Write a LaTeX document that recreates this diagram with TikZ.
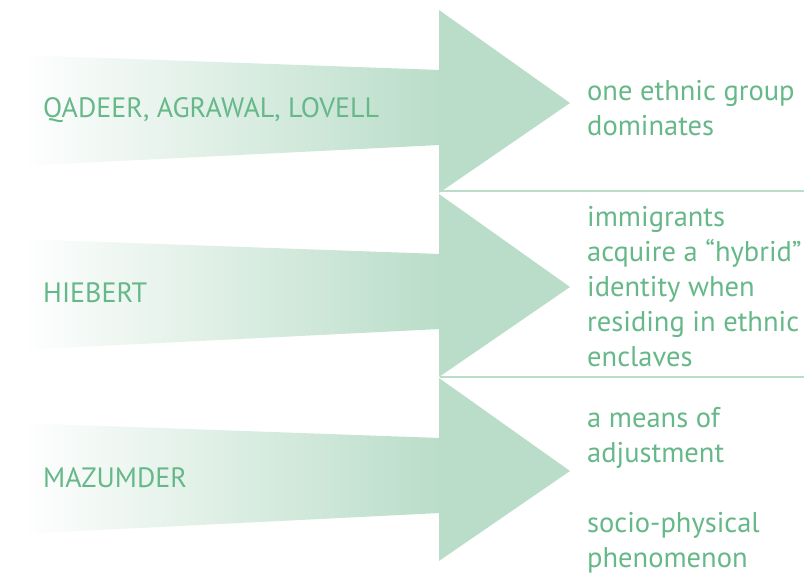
\documentclass[tikz,border=0pt]{standalone}
\usepackage{fontspec}
\setmainfont{PT Sans}
\definecolor{mint}{RGB}{186,221,201}
\definecolor{txt}{RGB}{102,184,137}
\begin{document}
\begin{tikzpicture}[x=1pt,y=-1pt,
  lbl/.style={text=txt, font=\fontsize{28}{30}\selectfont, anchor=base west, inner sep=0pt},
  rtxt/.style={text=txt, font=\fontsize{28.5}{35}\selectfont, anchor=base west, align=left, inner sep=0pt},
  sep/.style={draw=mint, line width=1.5pt}]
\useasboundingbox (0,0) rectangle (804,575);
\foreach \o in {0,184,368} {
  \shade[left color=white, right color=mint] (20,55+\o) -- (440,70+\o) -- (440,145+\o) -- (20,166+\o) -- cycle;
  \fill[mint] (439,10+\o) -- (570,103+\o) -- (439,193+\o) -- cycle;
}
\coordinate (s1a) at (440,191);
\coordinate (s1b) at (804,191);
\coordinate (s2a) at (440,377);
\coordinate (s2b) at (804,377);
\draw[sep] (s1a) -- (s1b);
\draw[sep] (s2a) -- (s2b);
\node[lbl] (l1) at (43,118) {QADEER, AGRAWAL, LOVELL};
\node[lbl] (l2) at (43,302) {HIEBERT};
\node[lbl] (l3) at (43,487) {MAZUMDER};
\node[rtxt] (r1) at (587,136) {one ethnic group\\dominates};
\node[rtxt] (r2) at (587,366) {immigrants\\acquire a “hybrid”\\identity when\\residing in ethnic\\enclaves};
\node[rtxt] (r3) at (587,567) {a means of\\adjustment\\[35pt]socio-physical\\phenomenon};
\end{tikzpicture}
\end{document}
